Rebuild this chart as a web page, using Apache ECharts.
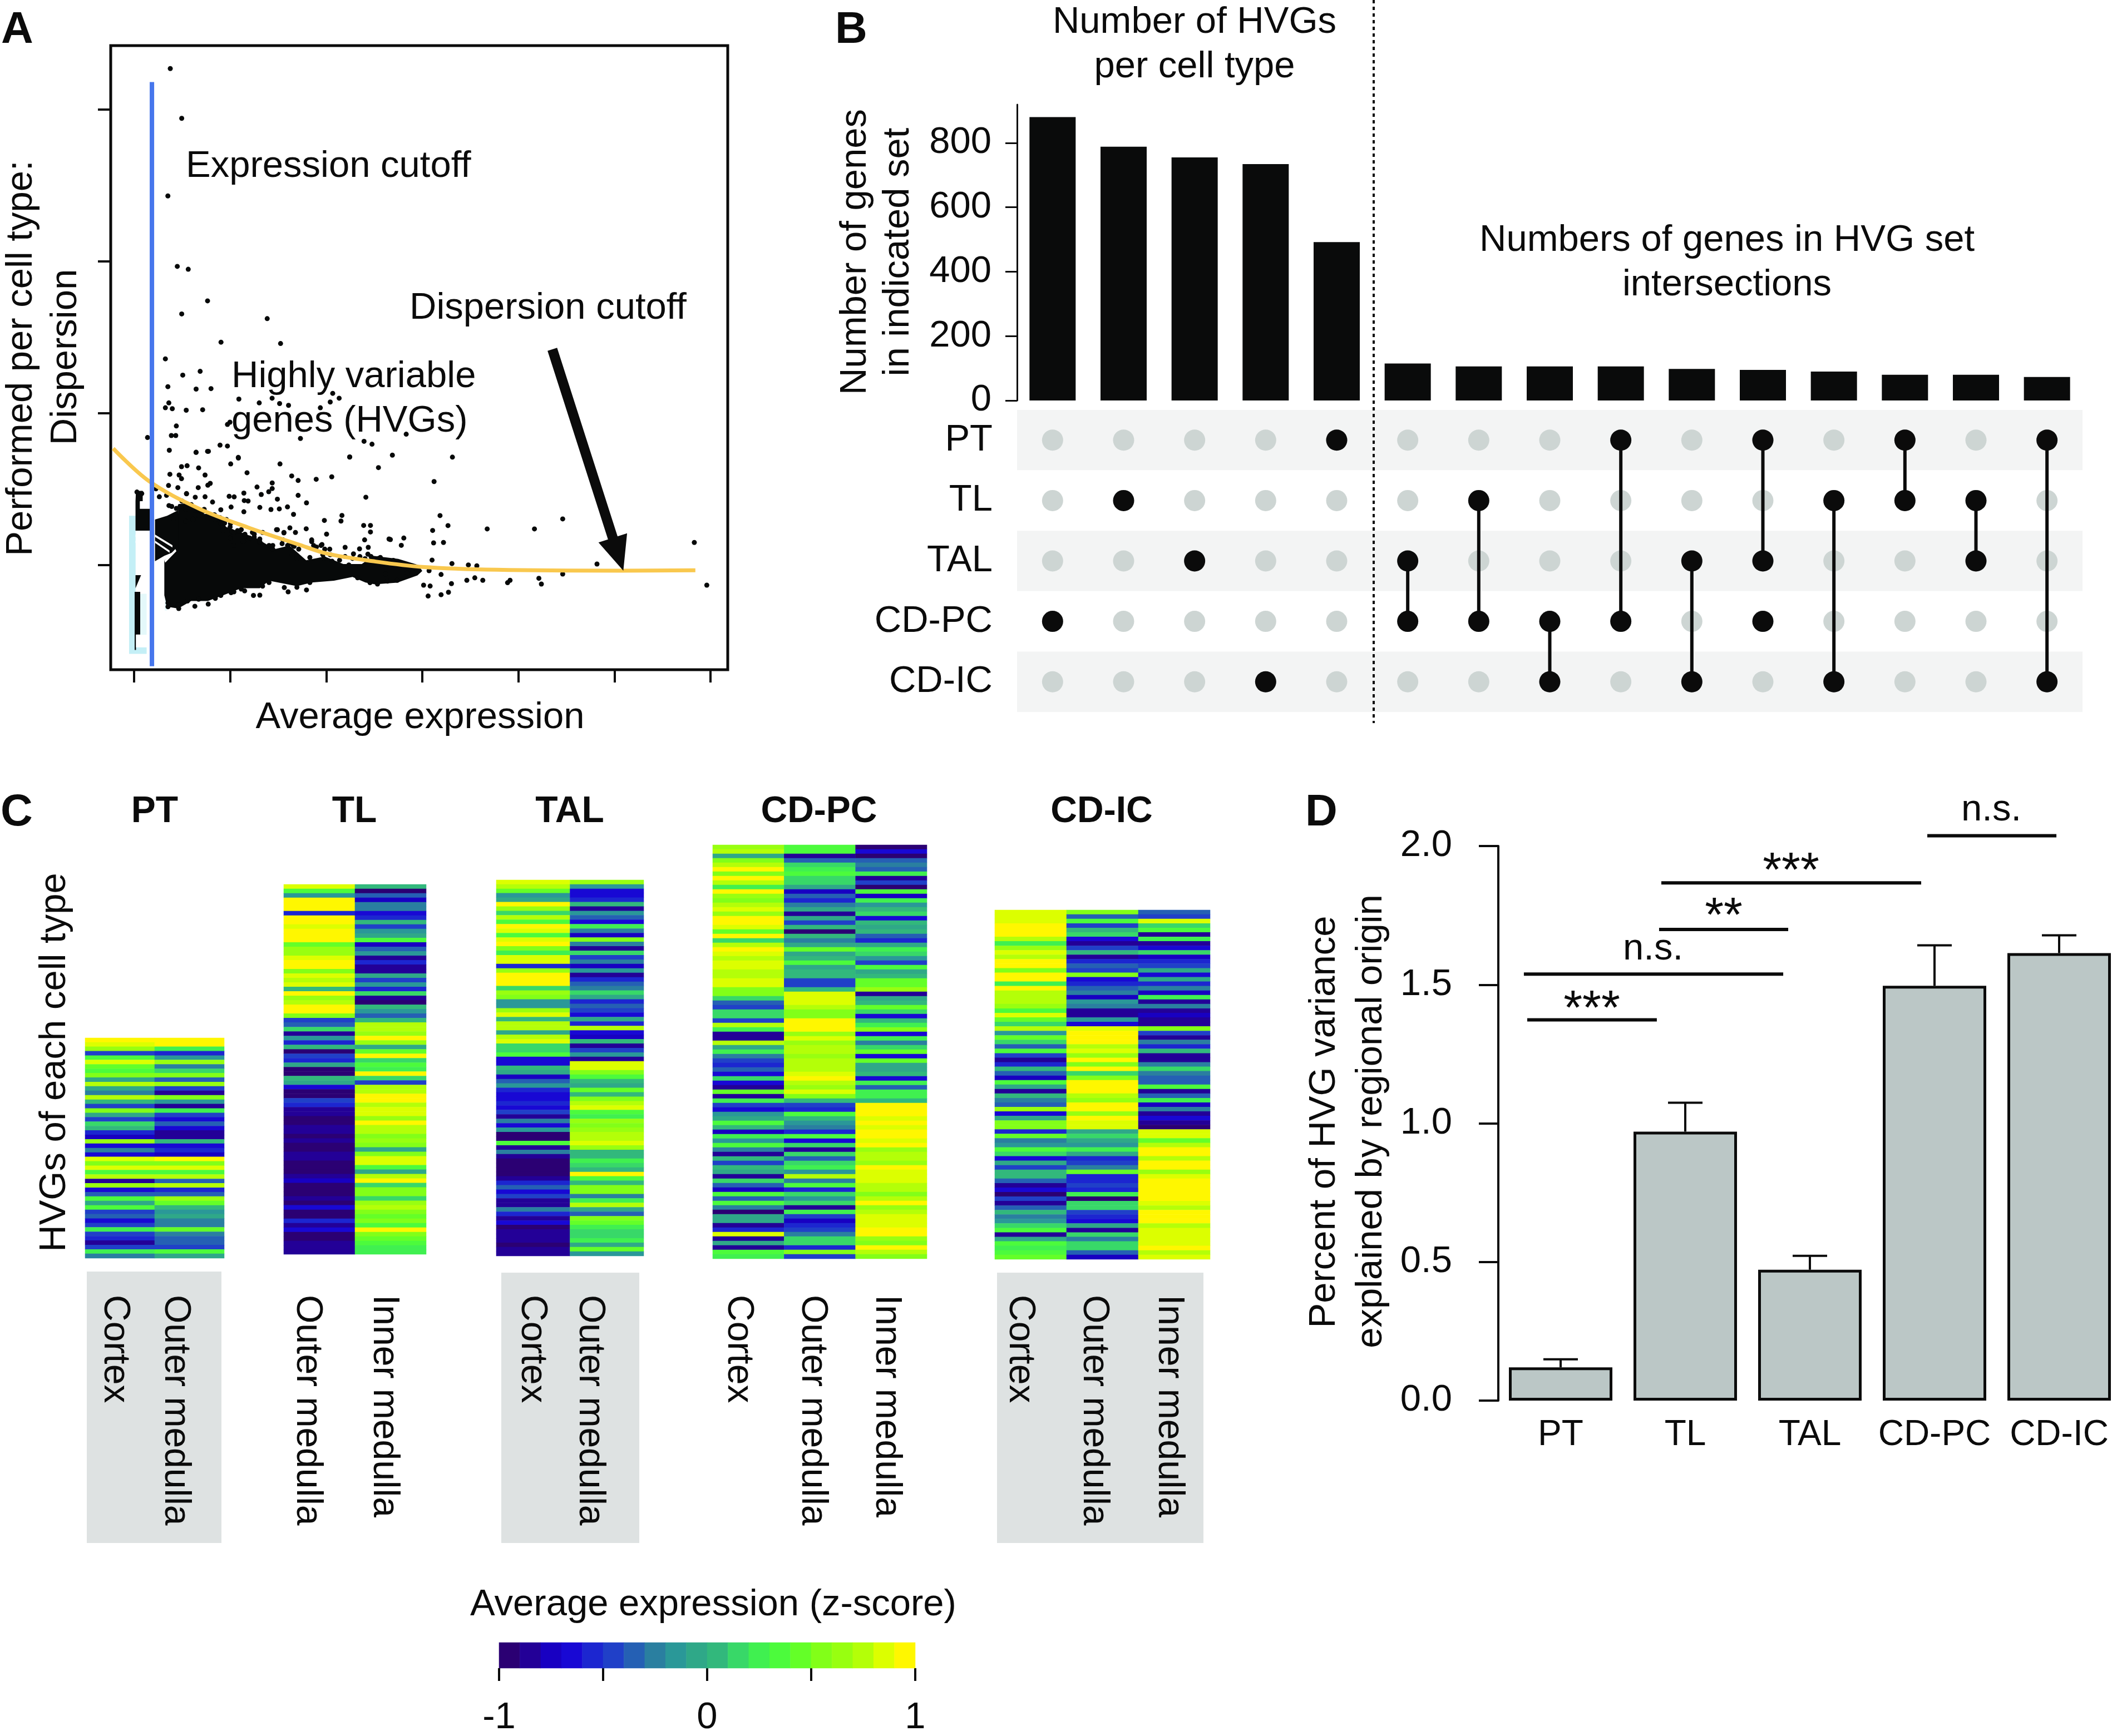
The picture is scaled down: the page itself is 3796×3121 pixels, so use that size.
<!DOCTYPE html>
<html><head><meta charset="utf-8">
<style>html,body{margin:0;padding:0;background:#fff}#c{width:3796px;height:3121px}</style>
<script src="https://cdn.jsdelivr.net/npm/echarts@6/dist/echarts.min.js"></script></head>
<body><div id="c"></div>
<script>
// ---------- Panel A data ----------
const dispersionPoints = [
[.377,3.269],[.496,2.941],[.352,2.430],[.450,1.966],[.564,1.947],[.765,1.739],[.496,1.653],[1.386,1.622],[.905,1.467],[1.525,1.458],
[.326,1.357],[.688,1.275],[.507,1.250],[.352,1.174],[.646,1.158],[.801,1.161],[.362,1.067],[.326,1.035],[.398,1.029],[.543,1.019],
[.714,1.022],[1.091,1.092],[1.437,1.098],[1.303,1.067],[1.515,1.063],[2.068,1.130],[2.135,1.098],[2.042,1.073],[1.939,1.035],[1.608,1.051],
[.140,.839],[.440,.915],[.388,.852],[.434,.852],[.998,.940],[.972,.925],[1.732,.833],[2.833,.861],[2.394,.814],[2.477,.795],
[.646,.742],[.765,.748],[.895,.789],[.972,.783],[1.086,.704],[2.244,.710],[2.689,.723],[3.314,.710],[3.123,.549],[3.185,.325],
[3.268,.259],[3.676,.237],[4.168,.237],[4.462,.303],[3.108,.227],[3.118,.145],[3.221,.148],[2.808,.177],[2.668,.167],[2.782,.129],
[5.832,.148],[4.819,.006],[5.962,-.133],[4.462,-.060],[4.214,-.088],[4.240,-.126],[3.914,-.101],[3.888,-.117],[3.630,-.101],[3.547,-.085],
[3.480,0],[3.568,-.006],[3.464,-.101],[3.061,-.205],[3.014,-.133],[3.082,-.139],[3.304,-.123],[3.273,-.180],[3.196,-.196],[3.196,-.063],
[3.102,.032],[3.309,.009],[3.071,-.038],[2.85,-.02],[2.7,.03],[2.62,-.06],[2.9,-.05],
[.367,.755],[.645,.741],[.774,.748],[1.085,.708],[1.006,.665],[1.519,.665],[2.245,.711],[2.544,.641],[.494,.647],[.552,.653],
[.672,.639],[.373,.597],[.469,.592],[.494,.568],[.739,.592],[1.176,.607],[1.641,.586],[1.708,.556],[1.896,.564],[2.058,.580],
[.793,.537],[.768,.525],[.359,.523],[.456,.509],[.668,.509],[1.280,.513],[1.438,.540],[1.438,.503],[1.402,.482],[2.413,.446],
[1.708,.458],[1.324,.464],[1.143,.473],[1.492,.433],[.546,.468],[.637,.446],[.739,.449],[.990,.452],[1.042,.448],[.338,.458],
[.263,.449],[.817,.414],[1.147,.424],[1.187,.421],[1.795,.409],[1.010,.381],[1.309,.379],[1.425,.365],[1.512,.369],[1.597,.382],
[1.143,.350],[1.660,.333],[2.164,.326],[2.154,.289],[1.981,.293],[2.390,.260],[2.461,.260],[2.461,.217],[1.004,.272],[1.792,.238],
[2.004,.203],[2.400,.165],[2.654,.171],[1.622,.244],[1.680,.214],[1.492,.232],[1.560,.211],[1.849,.165],[1.956,.134],[2.197,.116],
[2.347,.106],[2.438,.116],[2.434,.071],[2.284,.073],[2.037,.104],
[.353,-.275],[.465,-.287],[.633,-.272],[.772,-.258],[1.010,-.183],[1.151,-.171],[1.243,-.201],[1.309,-.199],[1.604,-.177],[1.564,-.149],[1.795,-.165],
[.064,.464],[.048,.433],[.228,.501],[.03,.48],[.08,.47],
[1.019,.220],[1.077,.226],[1.116,.232],[1.232,.214],[1.251,.183],[1.309,.171],[1.309,.147],[1.338,.214],[1.154,.189],[1.193,.165],
[1.135,.153],[1.039,.128],[1.0,.177],[.923,.250],[.903,.275],[.875,.305],[.836,.330],[.923,.299],[.672,.324],[.633,.330],
[.730,.366],[.903,.363],[.440,.372],[.363,.391],[.392,.385],[.498,.421],[.546,.470],[1.425,.122],[1.444,.104],[1.541,.140],
[1.598,.128],[1.666,.122],[1.647,.067],[1.695,.043],[1.830,.049],[1.965,.067],[1.975,.043],[2.062,.024],[1.869,.128],[1.898,.118],
[2.236,0],[2.351,-.018],[2.429,.006],[2.544,.043],[2.622,.031],
[.353,-.250],[.459,-.263],[.556,-.238],[.672,-.226],[.846,-.220],[.903,-.201],[1.039,-.177],[1.116,-.159],[1.338,-.140],[1.405,-.116],[1.695,-.147],[1.830,-.116],
[2.456,-.117],[2.534,-.126],[2.637,-.107],[2.740,-.101],[2.327,-.085],[2.585,-.006],[2.689,.025],[2.404,.041],[2.844,-.054],[2.896,-.006],
[.411,.305],[.431,.330],[.479,.385],[.537,.366],[.595,.397],[.672,.360],[.720,.354],[.807,.324],[.894,.311],[.961,.299],
[.942,.275],[1.0,.250],[.537,.287],[.614,.299],[.768,.305],[.846,.299],[.923,.226],[1.039,.214],[1.097,.220],[1.154,.202],
[1.203,.177],[1.251,.202],[1.309,.153],[1.405,.128],[1.444,.128],[1.483,.232],[1.560,.214],[1.550,.165],[1.618,.140],[1.656,.128],
[1.714,.104],[1.849,.153],[1.946,.128],[1.985,.104],[2.042,.067],[2.139,.031],[2.197,.055],[2.274,.043],[2.351,.055],[2.467,.055],[2.564,.049]
];
const denseUpper = [[.315,.031],[.45,.098],[.46,.40],[.575,.409],[.73,.336],[.846,.336],[.961,.25],[1.116,.214],[1.27,.177],[1.463,.104],[1.618,.128],[1.792,.031],[1.985,.055],[2.178,.006],[2.371,.006],[2.487,.06],[2.75,.04],[2.96,0],[3.0,-.04]];
const denseLower = [[3.0,-.04],[2.95,-.069],[2.74,-.117],[2.506,-.128],[2.409,-.116],[2.274,-.079],[2.081,-.104],[1.849,-.116],[1.695,-.14],[1.405,-.104],[1.309,-.153],[1.116,-.153],[.923,-.201],[.768,-.238],[.595,-.238],[.459,-.287],[.344,-.275],[.315,-.2]];
const lowExprHalo = [[[-.052,.324],[.016,.324],[.016,-.47],[.131,-.47],[.131,-.586],[-.052,-.586]]];
const lowExprHaloLight = [[[.06,-.19],[.131,-.19],[.131,-.47],[.06,-.47]],[[.32,-.02],[.345,-.02],[.345,-.3],[.32,-.3]]];
const lowExprDark = [
 [[.006,-.177],[.064,-.177],[.064,-.458],[.02,-.458],[.02,-.56],[.006,-.56]],
 [[.015,-.067],[.073,-.067],[.015,-.153]],
 [[.02,.488],[.09,.488],[.09,.42],[.06,.42],[.06,.37],[.18,.37],[.18,.226],[.015,.226],[.015,.42]],
 [[.218,.299],[.344,.324],[.46,.36],[.46,.098],[.315,.06],[.218,.024]]
];
const lowExprGaps = [
 [[.02,-.46],[.17,-.46],[.17,-.543],[.02,-.543]],
 [[.218,.2],[.4,.13],[.4,.115],[.218,.185]],
 [[.218,.16],[.37,.095],[.37,.08],[.218,.145]],
 [[.315,.03],[.43,.105],[.44,.09],[.325,.015]],
 [[.015,.2],[.2,.14],[.2,.125],[.015,.185]],
 [[.015,.16],[.2,.1],[.2,.085],[.015,.145]]
];
const cutoffCurve = [[-.217,.767],[.155,.552],[.672,.372],[1.189,.246],[1.706,.136],[2.017,.073],[2.482,.025],[3.0,-.013],[3.775,-.032],[5.067,-.038],[5.843,-.035]];
const expressionCutoff = [[.186,3.18],[.186,-.667]];
const arrowFromTo = [[4.354,1.42],[5.093,-.038]];
const aTicksX = [0,1,2,3,4,5,6];
const aTicksY = [0,1,2,3];

// ---------- Panel B data ----------
const upsetRows = ['PT','TL','TAL','CD-PC','CD-IC'];
const setMembers = [['CD-PC'],['TL'],['TAL'],['CD-IC'],['PT'],['TAL','CD-PC'],['TL','CD-PC'],['CD-PC','CD-IC'],['PT','CD-PC'],['TAL','CD-IC'],['PT','TAL','CD-PC'],['TL','CD-IC'],['PT','TL'],['TL','TAL'],['PT','CD-IC']];
const setLinks = [null,null,null,null,null,['TAL','CD-PC'],['TL','CD-PC'],['CD-PC','CD-IC'],['PT','CD-PC'],['TAL','CD-IC'],['PT','TAL'],['TL','CD-IC'],['PT','TL'],['TL','TAL'],['PT','CD-IC']];
const setSizes = [880,788,755,734,492,115,106,106,106,98,95,90,80,80,73];
const setTicks = [0,200,400,600,800];

// ---------- Panel C data ----------
const ptCortex = [.95,.85,.6,-.45,.3,.8,.45,.3,.5,-.05,.75,-.1,-.3,.7,.05,-.45,.5,-.1,-.45,.1,.05,-.55,-.75,.6,-.65,-.3,-.7,.85,.5,.8,.35,.7,-.85,.6,-.7,-.4,.35,-.05,.3,-.45,-.35,-.7,-.5,.25,-.45,-.55,-.85,-.45,.2,-.3];
const ptOuter = [.95,.9,.2,-.6,-.2,.6,-.25,.1,.5,-.35,.65,-.5,-.8,.5,-.2,-.8,.2,-.45,-.65,-.35,-.65,-.85,-.8,.0,-.7,-.55,-.75,.95,.5,.8,.3,.75,-.4,.75,-.6,-.35,.6,.4,.05,-.15,-.1,-.3,-.3,.4,-.3,-.35,-.4,-.45,.3,-.05];
const tlOuter = [.8,.3,-.2,.9,.95,.95,-.6,.95,.95,.8,.95,.95,.95,.45,.6,.6,.85,.95,.95,.5,.85,.75,.85,.05,.95,.6,.7,.9,.95,.5,-.5,-.35,.1,-.8,-.15,-.55,.0,-.9,-.5,-.6,-.1,-.9,-.95,.0,-.1,-.7,-.95,-.95,-.45,-.55,-.85,-.85,-.9,-.9,-.8,-.8,-.95,-.8,-.95,-.95,-.85,-.85,-.9,-.95,-.9,-.85,-.75,-.95,-.95,-.95,-.85,-.95,-.7,-.9,-.9,-.55,-.85,-.7,-.95,-.95,-.85,-.8,-.8];
const tlInner = [.0,-.9,-.4,-.75,-.3,-.25,-.7,-.55,.0,-.45,-.2,-.1,.3,-.75,-.4,-.2,-.85,-.6,-.85,-.8,-.1,-.45,-.2,-.6,.1,-.85,-.9,.0,-.2,-.4,.0,.75,.7,.6,.95,.6,-.1,.4,.9,.1,.3,.2,.95,.1,-.5,.7,.7,.95,.95,.75,.8,.85,.65,.9,.75,.7,.5,.6,.55,-.1,.5,.85,.85,.3,-.1,.7,.95,.1,.5,.5,.1,.6,.7,.55,.4,.5,.3,.9,.55,.4,.3,.25,.2];
const talCortex = [.85,.75,.4,-.2,-.1,.9,.6,.1,.75,.3,.95,.8,.3,.8,.95,.55,.2,.8,.85,-.6,.6,.9,.95,.9,.1,.6,.55,-.2,-.2,.6,.85,.0,.7,.7,-.1,.75,.8,.1,.15,.35,-.65,-.7,.0,-.1,-.75,-.4,-.2,-.6,-.7,-.65,-.6,-.7,-.5,-.8,-.3,-.7,-.2,-.95,-.9,.35,-.85,-.3,-.85,-.9,-.95,-.95,-.95,-.85,-.6,-.4,-.65,-.45,-.85,-.8,-.3,-.6,-.85,-.65,-.9,-.85,-.85,-.85,-.9,-.85,-.8];
const talOuter = [.6,-.2,-.7,-.7,-.6,.05,-.85,-.15,-.4,-.7,.2,-.3,-.75,.5,-.25,-.85,.1,-.5,-.3,-.75,-.2,-.85,-.6,-.4,-.3,.15,-.1,-.6,-.4,-.45,-.65,-.05,-.6,.7,-.7,-.75,.0,-.8,-.5,-.15,-.85,.85,.8,.55,.3,.05,-.05,.4,.0,.5,.7,.85,.3,.25,.6,.5,.65,.7,.75,.85,.6,.0,.05,.2,.15,.05,.9,.3,.0,.55,.5,-.3,.2,.75,-.1,-.35,.5,.45,.25,.15,.1,.2,-.1,.4,-.15];
const pcCortex = [.6,.7,-.1,.5,.7,.95,.55,.95,.75,.2,.9,.65,.55,.7,.85,.6,.9,.9,.85,.45,.9,.1,.75,.95,.85,.75,.85,.85,.75,.75,.85,.8,.55,.55,.1,-.4,-.5,.1,.15,-.5,.7,.2,-.8,-.8,.7,-.1,.2,-.3,-.5,-.55,-.4,-.7,.1,-.65,-.8,.45,-.85,.2,-.5,-.65,-.2,-.1,.3,.0,-.75,.25,-.2,.3,-.3,-.85,.0,-.45,.05,-.05,-.8,.1,-.35,-.75,.35,-.4,.35,-.3,-.9,-.1,-.05,-.85,-.55,.8,-.8,-.1,-.85,.3,.2];
const pcOuter = [.3,.3,-.8,-.35,.1,.2,.3,.1,.1,-.05,-.75,-.35,-.55,-.3,-.05,-.8,-.1,-.5,.0,-.95,.0,-.3,-.1,.4,-.05,.05,.3,-.1,.05,.05,-.5,-.45,.05,.85,.85,.8,.75,.5,.5,.95,.95,.9,.6,.8,.6,.75,.7,.6,.7,.7,.75,.85,.9,.75,.6,.85,.55,.0,-.5,-.6,.3,.0,-.15,-.25,-.6,.35,-.7,.1,-.85,.1,-.35,.1,.2,-.2,.7,-.3,.3,-.6,.1,-.2,.1,-.8,.2,-.5,-.75,-.55,-.5,-.3,.1,.1,-.6,.5,-.45];
const pcInner = [-.95,-.7,-.95,-.4,-.3,-.4,.2,-.85,-.5,-.9,.3,-.75,.25,-.2,.05,.1,-.7,.0,-.1,.0,-.35,-.6,-.1,.2,.15,-.2,-.5,.3,-.05,.0,.4,.4,.6,-.8,-.1,.0,.4,.1,-.7,.0,.2,.5,-.7,.2,-.3,.1,.4,-.65,.4,-.1,-.1,.05,-.7,.2,-.4,.2,.25,.0,.95,.95,.95,.85,.9,.8,.95,.95,.85,.95,.65,.75,.7,.65,.9,.85,.8,.8,.75,.7,.55,.75,.95,.6,.75,.85,.8,.85,.95,.9,.65,.55,.9,.75,.5];
const icCortex = [.8,.85,.8,.95,.95,.9,.7,.2,.65,.85,.75,.9,.9,.5,.95,.95,.2,.9,.75,.75,.7,.6,.35,.85,.45,.1,.7,-.2,.45,.1,-.4,.3,-.5,-.85,-.6,.0,-.4,-.75,.3,-.1,-.8,.0,-.25,-.35,.6,-.7,-.1,.55,.55,-.6,.4,-.3,-.2,.3,.1,-.7,-.1,-.5,.05,.0,-.4,-.85,-.7,-.9,-.45,-.85,-.35,.05,-.3,-.2,.1,.3,-.85,-.05,.35,.2,.3,.4];
const icOuter = [.5,-.4,.35,-.5,.0,.1,-.7,-.85,-.5,.0,-.8,-.6,-.35,-.45,.5,-.7,-.6,-.35,-.3,-.75,-.2,-.3,-.85,-.85,-.2,-.65,.8,.95,.95,.95,.7,.8,.6,.95,.5,.9,.1,.55,.95,.95,.95,.7,.6,.95,.9,.6,.9,.85,.8,-.1,.1,-.1,-.15,.2,-.1,-.6,-.5,-.3,.4,-.6,-.55,-.5,-.6,.2,-.9,.1,.1,-.5,-.55,-.7,-.1,-.8,.1,-.3,.1,.15,-.4,-.75];
const icInner = [-.4,-.45,.85,.1,.3,-.8,.2,-.85,-.7,.1,-.75,-.6,-.5,-.1,-.7,-.1,-.6,-.3,-.75,.2,-.85,-.3,-.8,-.75,-.85,-.85,.5,-.45,-.8,-.3,-.6,.0,-.8,-.8,-.25,.1,-.3,-.4,-.4,.3,-.85,-.4,.2,-.75,-.3,-.85,-.65,-.85,-.9,.8,.85,.4,.7,.9,.95,.75,.9,.95,.6,.8,.95,.95,.95,.95,.95,.85,.7,.95,.95,.95,.7,.8,.8,.85,.85,.9,.7,.8];
const zColors = ['#2B0073','#230097','#1800C2','#1808D4','#1C26D0','#2040C8','#2560B4','#2A7FA0','#2A9898','#2FA888','#32B87C','#38D868','#40F050','#4CFB3C','#64FF28','#82FF18','#98FF10','#B4FF08','#DCFF00','#FFF700'];
const zSteps = [-.95,-.85,-.75,-.65,-.55,-.45,-.35,-.25,-.15,-.05,.05,.15,.25,.35,.45,.55,.65,.75,.85,.95];

// ---------- Panel D data ----------
const cellTypes = ['PT','TL','TAL','CD-PC','CD-IC'];
const variancePct = [.12,.97,.472,1.496,1.614];
const varianceTop = [.149,1.074,.522,1.642,1.678];
const sigBars = [[.232,1.272,1.373],[.205,2.286,1.538],[1.29,2.326,1.699],[1.308,3.393,1.867],[3.442,4.478,2.037]];

// ---------- build ----------
const FONT = '"Liberation Sans", Arial, Helvetica, sans-serif';
const INK = '#0b0b0b';
const grid=[],xAxis=[],yAxis=[],series=[],graphic=[];
function addGrid(g){grid.push(Object.assign({containLabel:false,outerBoundsMode:'none'},g));return grid.length-1;}
function T(text,x,y,o){o=o||{};const r=o.rot||0;
  const dx=r>0?5:0, dy=r===0?5:0;
  graphic.push({type:'text',x:x+dx,y:y+dy,rotation:r,z:50,style:{text:text,x:0,y:0,fill:INK,fontFamily:FONT,fontSize:o.size||67,fontWeight:o.bold?'bold':'normal',align:o.align||'center',verticalAlign:'middle'}});}
const hide={show:false};
const noLine={show:false,onZero:false};

// Panel A
const gA=addGrid({left:199,top:82,width:1109,height:1122,show:true,borderColor:INK,borderWidth:5,backgroundColor:'#fff'});
xAxis.push({gridIndex:gA,type:'value',position:'bottom',min:-.243,max:6.18,splitLine:hide,axisLine:noLine,axisLabel:hide,axisTick:{show:true,length:23,customValues:aTicksX,lineStyle:{color:INK,width:4}}});
yAxis.push({gridIndex:gA,type:'value',position:'left',min:-.69,max:3.42,splitLine:hide,axisLine:noLine,axisLabel:hide,axisTick:{show:true,length:23,customValues:aTicksY,lineStyle:{color:INK,width:4}}});
const aX=xAxis.length-1,aY=yAxis.length-1;
const polyPainter=(polys,fill,z)=>({type:'custom',xAxisIndex:aX,yAxisIndex:aY,z:z,silent:true,data:polys.map((p,i)=>i),
  renderItem:(p,api)=>({type:'polygon',shape:{points:polys[p.dataIndex].map(c=>api.coord(c))},style:{fill:fill}})});
series.push(polyPainter(lowExprHalo,'#C4EFF6',2));
series.push(polyPainter(lowExprHaloLight,'#E4F8FA',2));
series.push(polyPainter([denseUpper.concat(denseLower)],'#070909',3));
series.push(polyPainter(lowExprDark,'#070909',3));
series.push(polyPainter(lowExprGaps,'#ffffff',4));
series.push({type:'scatter',xAxisIndex:aX,yAxisIndex:aY,z:5,silent:true,symbolSize:9,large:false,itemStyle:{color:'#070909',opacity:1},data:dispersionPoints});
series.push({type:'line',xAxisIndex:aX,yAxisIndex:aY,z:6,silent:true,smooth:.35,showSymbol:false,symbol:'none',lineStyle:{color:'#F9C84E',width:7},data:cutoffCurve});
series.push({type:'line',xAxisIndex:aX,yAxisIndex:aY,z:7,silent:true,showSymbol:false,symbol:'none',lineStyle:{color:'#4676EC',width:8},data:expressionCutoff});
series.push({type:'custom',xAxisIndex:aX,yAxisIndex:aY,z:8,silent:true,data:[0],renderItem:(p,api)=>{
  const a=api.coord(arrowFromTo[0]),b=api.coord(arrowFromTo[1]);const L=Math.hypot(b[0]-a[0],b[1]-a[1]);const u=[(b[0]-a[0])/L,(b[1]-a[1])/L],n=[-u[1],u[0]];
  const s=9,h=27,hl=62;const q=(t,w)=>[a[0]+u[0]*t+n[0]*w,a[1]+u[1]*t+n[1]*w];
  return {type:'polygon',shape:{points:[q(0,s),q(L-hl,s),q(L-hl,h),q(L,0),q(L-hl,-h),q(L-hl,-s),q(0,-s)]},style:{fill:INK}};}});
T('A',31,50,{size:80,bold:true});
T('Expression cutoff',334,295,{align:'left'});
T('Dispersion cutoff',736,550,{align:'left'});
T('Highly variable',416,673,{align:'left'});
T('genes (HVGs)',416,753,{align:'left'});
T('Average expression',755,1286);
T('Performed per cell type:',34,644,{rot:Math.PI/2});
T('Dispersion',114,642,{rot:Math.PI/2});

// Panel B bars
const gB=addGrid({left:1828,top:188,width:1915,height:532});
xAxis.push({gridIndex:gB,type:'category',data:setMembers.map(m=>m.join('&')),axisLine:hide,axisTick:hide,axisLabel:hide,splitLine:hide});
yAxis.push({gridIndex:gB,type:'value',min:0,max:919,splitLine:hide,axisLine:{show:true,lineStyle:{color:INK,width:3}},
  axisTick:{show:true,length:21,customValues:setTicks,lineStyle:{color:INK,width:3}},
  axisLabel:{show:true,margin:46,customValues:setTicks,fontFamily:FONT,fontSize:67,color:INK}});
series.push({type:'bar',xAxisIndex:xAxis.length-1,yAxisIndex:yAxis.length-1,barWidth:83,silent:true,itemStyle:{color:'#0a0b0b'},data:setSizes});
// Panel B matrix
const gM=addGrid({left:1828,top:737,width:1915,height:543});
xAxis.push({gridIndex:gM,type:'category',data:setMembers.map(m=>m.join('&')),axisLine:hide,axisTick:hide,axisLabel:hide,splitLine:hide});
yAxis.push({gridIndex:gM,type:'category',inverse:true,data:upsetRows,axisLine:hide,axisTick:hide,
  axisLabel:{show:true,margin:44,fontFamily:FONT,fontSize:67,color:INK,padding:[3,0,0,0]},
  splitArea:{show:true,areaStyle:{color:['#F3F4F4','#ffffff']}},splitLine:hide});
const mX=xAxis.length-1,mY=yAxis.length-1;
const allDots=[];setMembers.forEach((m,c)=>upsetRows.forEach(r=>allDots.push([c,upsetRows.indexOf(r)])));
series.push({type:'scatter',xAxisIndex:mX,yAxisIndex:mY,z:3,silent:true,symbolSize:38,itemStyle:{color:'#CDD5D3',opacity:1},data:allDots});
setLinks.forEach((l,c)=>{if(l)series.push({type:'line',xAxisIndex:mX,yAxisIndex:mY,z:4,silent:true,symbol:'none',lineStyle:{color:INK,width:6},data:l.map(r=>[c,upsetRows.indexOf(r)])});});
const blackDots=[];setMembers.forEach((m,c)=>m.forEach(r=>blackDots.push([c,upsetRows.indexOf(r)])));
series.push({type:'scatter',xAxisIndex:mX,yAxisIndex:mY,z:5,silent:true,symbolSize:38,itemStyle:{color:INK,opacity:1},data:blackDots});
T('B',1530,50,{size:80,bold:true});
T('Number of HVGs',2147,36);
T('per cell type',2147,116);
T('Numbers of genes in HVG set',3104,428);
T('intersections',3104,508);
T('Number of genes',1533,453,{rot:Math.PI/2});
T('in indicated set',1610,453,{rot:Math.PI/2});
graphic.push({type:'line',z:40,shape:{x1:2469,y1:0,x2:2469,y2:1300},style:{stroke:INK,lineWidth:4,lineDash:[6,6]}});

// Panel C
const heatSeriesIdx=[];
function heat(cols,regions,box){
  const g=addGrid(box);
  xAxis.push({gridIndex:g,type:'category',data:regions,axisLine:hide,axisTick:hide,axisLabel:hide,splitLine:hide,splitArea:hide});
  yAxis.push({gridIndex:g,type:'category',inverse:true,data:cols[0].map((v,i)=>i),axisLine:hide,axisTick:hide,axisLabel:hide,splitLine:hide,splitArea:hide});
  const d=[];cols.forEach((c,ci)=>c.forEach((v,ri)=>d.push([ci,ri,v])));
  series.push({type:'heatmap',xAxisIndex:xAxis.length-1,yAxisIndex:yAxis.length-1,silent:true,progressive:0,data:d});
  heatSeriesIdx.push(series.length-1);
}
graphic.push({type:'rect',z:-1,shape:{x:156,y:2286,width:242,height:488},style:{fill:'#DEE2E2'}});
graphic.push({type:'rect',z:-1,shape:{x:901,y:2288,width:248,height:486},style:{fill:'#DEE2E2'}});
graphic.push({type:'rect',z:-1,shape:{x:1792,y:2288,width:371,height:486},style:{fill:'#DEE2E2'}});
heat([ptCortex,ptOuter],['Cortex','Outer medulla'],{left:153,top:1866,width:250,height:396});
heat([tlOuter,tlInner],['Outer medulla','Inner medulla'],{left:510,top:1590,width:256,height:665});
heat([talCortex,talOuter],['Cortex','Outer medulla'],{left:892,top:1582,width:265,height:676});
heat([pcCortex,pcOuter,pcInner],['Cortex','Outer medulla','Inner medulla'],{left:1281,top:1519,width:385,height:744});
heat([icCortex,icOuter,icInner],['Cortex','Outer medulla','Inner medulla'],{left:1788,top:1636,width:387,height:628});
T('C',30,1457,{size:80,bold:true});
[['PT',278],['TL',637],['TAL',1024],['CD-PC',1472],['CD-IC',1980]].forEach(t=>T(t[0],t[1],1455,{bold:true,size:66}));
T('HVGs of each cell type',94,1910,{rot:Math.PI/2});
[['Cortex',206],['Outer medulla',315],['Outer medulla',552],['Inner medulla',690],['Cortex',956],['Outer medulla',1060],['Cortex',1327],['Outer medulla',1460],['Inner medulla',1593],['Cortex',1833],['Outer medulla',1966],['Inner medulla',2101]]
 .forEach(t=>T(t[0],t[1],2328,{rot:-Math.PI/2,align:'left',size:66}));
T('Average expression (z-score)',1282,2881);
// colour bar
const gC=addGrid({left:897,top:2953,width:748,height:46});
xAxis.push({gridIndex:gC,type:'category',data:zSteps,axisLine:hide,axisTick:hide,axisLabel:hide,splitLine:hide,splitArea:hide});
yAxis.push({gridIndex:gC,type:'category',data:['z'],axisLine:hide,axisTick:hide,axisLabel:hide,splitLine:hide,splitArea:hide});
series.push({type:'heatmap',xAxisIndex:xAxis.length-1,yAxisIndex:yAxis.length-1,silent:true,progressive:0,data:zSteps.map((v,i)=>[i,0,v])});
heatSeriesIdx.push(series.length-1);
xAxis.push({gridIndex:gC,type:'value',position:'bottom',min:-1,max:1,interval:.5,splitLine:hide,axisLine:{show:false,onZero:false},
  axisTick:{show:true,length:23,lineStyle:{color:INK,width:4}},
  axisLabel:{show:true,margin:56,fontFamily:FONT,fontSize:67,color:INK,formatter:v=>Number.isInteger(v)?String(v):''}});

// Panel D
const gD=addGrid({left:2693,top:1521,width:1120,height:997});
xAxis.push({gridIndex:gD,type:'category',data:cellTypes,axisLine:hide,axisTick:hide,splitLine:hide,axisLabel:{show:true,interval:0,margin:30,fontFamily:FONT,fontSize:64,color:INK}});
const dCat=xAxis.length-1;
xAxis.push({gridIndex:gD,type:'value',min:0,max:5,show:false});
const dVal=xAxis.length-1;
yAxis.push({gridIndex:gD,type:'value',min:0,max:2,interval:.5,offset:24,splitLine:hide,axisLine:{show:true,lineStyle:{color:INK,width:4}},
  axisTick:{show:true,length:35,lineStyle:{color:INK,width:4}},axisLabel:{show:true,margin:59,fontFamily:FONT,fontSize:67,color:INK,padding:[3,0,0,0],formatter:v=>v.toFixed(1)}});
const dY=yAxis.length-1;
series.push({type:'custom',xAxisIndex:dCat,yAxisIndex:dY,z:1,silent:true,data:cellTypes.map((c,i)=>[i,variancePct[i],varianceTop[i]]),
 renderItem:(p,api)=>{const i=api.value(0),a=api.coord([i,api.value(1)]),b=api.coord([i,api.value(2)]);
  const st={stroke:INK,lineWidth:4};
  return {type:'group',children:[{type:'line',shape:{x1:a[0],y1:a[1],x2:b[0],y2:b[1]},style:st},{type:'line',shape:{x1:b[0]-31,y1:b[1],x2:b[0]+31,y2:b[1]},style:st}]};}});
series.push({type:'bar',xAxisIndex:dCat,yAxisIndex:dY,z:2,barWidth:186,silent:true,itemStyle:{color:'#BBC7C6',borderColor:INK,borderWidth:5},data:variancePct});
sigBars.forEach(s=>series.push({type:'line',xAxisIndex:dVal,yAxisIndex:dY,z:5,silent:true,clip:false,symbol:'none',lineStyle:{color:INK,width:6},data:[[s[0],s[2]],[s[1],s[2]]]}));
T('D',2375,1457,{size:80,bold:true});
T('Percent of HVG variance',2376,2017,{rot:Math.PI/2});
T('explained by regional origin',2460,2016,{rot:Math.PI/2});
T('***',2861,1812,{size:87});T('n.s.',2971,1702);T('**',3098,1645,{size:87});T('***',3219,1564,{size:87});T('n.s.',3579,1452);

const chart=echarts.init(document.getElementById('c'),null,{renderer:'canvas',width:3796,height:3121});
chart.setOption({animation:false,backgroundColor:'#fff',tooltip:{show:false},grid,xAxis,yAxis,series,graphic:{elements:graphic},
 visualMap:[{type:'piecewise',show:false,min:-1,max:1,splitNumber:20,seriesIndex:heatSeriesIdx,dimension:2,inRange:{color:zColors}}]});
</script></body></html>
